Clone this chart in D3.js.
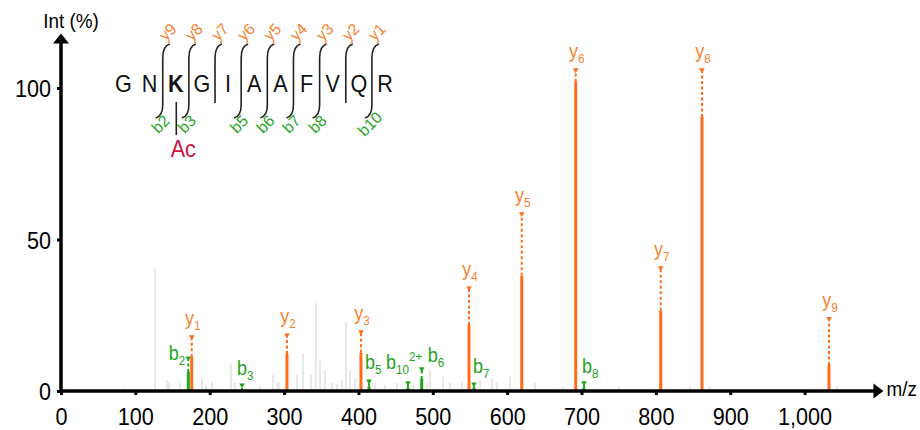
<!DOCTYPE html>
<html><head><meta charset="utf-8">
<script src="https://cdn.jsdelivr.net/npm/d3@7"></script>
<style>
html,body{margin:0;padding:0;background:#fff;}
svg{display:block;font-family:"Liberation Sans",Arial,sans-serif;}
</style></head>
<body><svg id="c" width="920" height="430"></svg>
<script>
// ---------- data ----------
const xTicks = [0,100,200,300,400,500,600,700,800,900,1000];
const yTicks = [0,50,100];
const xLabel = "m/z";
const yLabel = "Int (%)";

// annotated fragment ions
const ionNames = ["b2","y1","b3","y2","y3","b5","b10","b6","y4","b7","y5","y6","b8","y7","y8","y9"];
const ionSub   = ["2","1","3","2","3","5","10","6","4","7","5","6","8","7","8","9"];
const ionSup   = ["","","","","","","2+","","","","","","","","",""];
const ionType  = ["b","y","b","y","y","b","b","b","y","b","y","y","b","y","y","y"];
const ionMz    = [171.2,175.8,243.4,303.9,403.4,414.2,466.6,485.1,548.7,555.4,619.6,692.2,703.3,806.5,862.0,1032.8];
const ionInt   = [6.3,11.3,0,12.2,12.6,1.5,1.0,4.0,21.8,1.2,38.0,102.0,1.2,26.5,90.4,8.6];
const ionMark  = [11.2,18.2,2.3,18.8,19.8,3.6,3.0,7.6,34.3,2.6,58.8,106.3,3.0,41.0,106.3,24.2];

// unassigned background peaks
const bgMz  = [86,126.4,142.5,145.2,160,189.6,195,203,228.6,234,267.6,285,290.5,293,317.4,325.4,336.2,342.9,348.3,355,364.4,371.2,377.9,383.3,388.6,395.4,422.3,435.7,451.9,473.4,492.2,496.2,513.7,523.1,539.3,563.5,579.6,586.3,603.8,637.4,675.1,750,845.9,872.8,1043];
const bgInt = [1.0,40.6,3.6,3.0,2.6,4.3,2.0,3.0,9.0,2.6,1.7,5.3,2.6,3.0,5.3,12.5,5.3,29.0,10.0,7.0,2.6,2.3,3.6,22.8,7.0,4.3,2.0,2.0,2.6,2.0,2.6,7.0,4.6,2.6,3.0,3.6,4.3,3.0,4.6,2.6,1.7,1.5,2.0,2.0,1.5];

// peptide sequence and fragment coverage
const residues = ["G","N","K","G","I","A","A","F","V","Q","R"];
const modifiedResidue = 2;     // index of acetylated K
const modLabel = "Ac";
const yCoverage = ["y9","y8","y7","y6","y5","y4","y3","y2","y1"];   // cleavage sites N|K ... Q|R
const bCoverage = ["b2","b3","","b5","b6","b7","b8","","b10"];

// ---------- drawing ----------
const ORANGE = "#ff6d1a", ORANGE_T = "#f7822f", GREEN = "#1fa51f", RED = "#cc1540", GRAY = "#d9d9d9";
const SX = 0.9;
const svg = d3.select("#c");

const x = d3.scaleLinear().domain([0,1000]).range([61,804.6]);
const y = d3.scaleLinear().domain([0,100]).range([391,88]);

function txt(g, s, px, py, size, anchor, color, weight){
  return g.append("text").attr("transform",`translate(${px},${py}) scale(${SX},1)`)
    .attr("text-anchor",anchor||"start").attr("font-size",size).attr("fill",color||"#000")
    .attr("font-weight",weight||"normal").text(s);
}

// background peaks
svg.append("g").selectAll("line").data(bgMz).join("line")
  .attr("x1",d=>x(d)).attr("x2",d=>x(d))
  .attr("y1",y(0)).attr("y2",(d,i)=>y(bgInt[i]))
  .attr("stroke",GRAY).attr("stroke-width",1.2);

// ion peaks
const ions = ionNames.map((n,i)=>({n,sub:ionSub[i],sup:ionSup[i],t:ionType[i],mz:ionMz[i],v:ionInt[i],m:ionMark[i]}));
const gI = svg.append("g");
ions.forEach(d=>{
  const c = d.t==="y"?ORANGE:GREEN;
  const px = x(d.mz);
  if(d.v>0) gI.append("line").attr("x1",px).attr("x2",px).attr("y1",y(0)).attr("y2",y(d.v))
    .attr("stroke",c).attr("stroke-width",3);
  gI.append("line").attr("x1",px).attr("x2",px).attr("y1",y(d.v)).attr("y2",y(d.m)+3)
    .attr("stroke",c).attr("stroke-width",2).attr("stroke-dasharray","3,2.5");
  gI.append("path").attr("d",d3.symbol().type(d3.symbolTriangle).size(14)())
    .attr("transform",`translate(${px},${y(d.m)+1}) rotate(180)`).attr("fill",c);
});

// ion labels
const bOff = {b2:[-3,3,"end"],b3:[-5,-9,"start"],b5:[-4,-11,"start"],b10:[-22,-13,"start"],b6:[6,-6,"start"],b7:[-1,-10,"start"],b8:[-2,-9,"start"]};
ions.forEach(d=>{
  const px = x(d.mz), py = y(d.m);
  let t;
  if(d.t==="y"){
    t = txt(gI,"",px+1,py-11,20,"middle",ORANGE_T);
  } else {
    const o = bOff[d.n];
    t = txt(gI,"",px+o[0],py+o[1],20,o[2],GREEN);
  }
  t.append("tspan").text(d.t);
  t.append("tspan").attr("font-size",13).attr("dy",5).text(d.sub);
  if(d.sup) t.append("tspan").attr("font-size",13).attr("dy",-13).text(d.sup);
});

// axes
const ax = svg.append("g").attr("transform",`translate(0,${y(0)})`)
  .call(d3.axisBottom(x).tickValues(xTicks).tickFormat(d3.format(",")).tickSize(4));
ax.select(".domain").remove();
ax.selectAll(".tick line").attr("stroke","#000").attr("stroke-width",3);
ax.selectAll(".tick text").attr("y",null).attr("dy",null)
  .attr("transform",`translate(0,34) scale(${SX},1)`).attr("font-size",24)
  .attr("font-family","Liberation Sans, Arial, sans-serif").attr("fill","#000");

const ay = svg.append("g").attr("transform",`translate(${x(0)},0)`)
  .call(d3.axisLeft(y).tickValues(yTicks).tickSize(4));
ay.select(".domain").remove();
ay.selectAll(".tick line").attr("stroke","#000").attr("stroke-width",3);
ay.selectAll(".tick text").attr("x",null).attr("dy","0.36em")
  .attr("transform",`translate(-10,0) scale(${SX},1)`).attr("font-size",24)
  .attr("font-family","Liberation Sans, Arial, sans-serif").attr("fill","#000");

const xEnd = x(1106), yTop = y(118);
svg.append("line").attr("x1",x(0)).attr("x2",xEnd-6).attr("y1",y(0)).attr("y2",y(0)).attr("stroke","#000").attr("stroke-width",3.5);
svg.append("line").attr("x1",x(0)).attr("x2",x(0)).attr("y1",y(0)+1.75).attr("y2",yTop+6).attr("stroke","#000").attr("stroke-width",3.5);
svg.append("path").attr("d",`M${xEnd},${y(0)} L${xEnd-10},${y(0)-7.5} L${xEnd-10},${y(0)+7.5} Z`).attr("fill","#000");
svg.append("path").attr("d",`M${x(0)},${yTop} L${x(0)-8},${yTop+10} L${x(0)+8},${yTop+10} Z`).attr("fill","#000");
txt(svg,xLabel,xEnd+3,y(0)+5,21,"start");
txt(svg,yLabel,x(0)+10,28,21,"middle");

// peptide inset
const pg = svg.append("g");
const pos = d3.scaleLinear().domain([0,10]).range([123.5,385]);
residues.forEach((r,i)=>{
  txt(pg,r,pos(i),92,24,"middle","#111",i===modifiedResidue?"bold":"normal");
});
yCoverage.forEach((yl,k)=>{
  const cx = pos(k+1.5);
  const hasB = bCoverage[k]!=="";
  const p = d3.path();
  p.moveTo(cx+7,44);
  p.quadraticCurveTo(cx,46,cx,58);
  p.lineTo(cx,hasB?105:103);
  if(hasB) p.quadraticCurveTo(cx,116,cx-7,118);
  pg.append("path").attr("d",p.toString()).attr("fill","none").attr("stroke","#222").attr("stroke-width",1.6);
  pg.append("text").attr("transform",`translate(${cx+5},32) rotate(-45)`)
    .attr("text-anchor","middle").attr("dominant-baseline","central").attr("font-size",16).attr("fill",ORANGE_T)
    .text(yl);
  if(hasB){
    pg.append("text").attr("transform",`translate(${cx-2},124) rotate(-45)`)
      .attr("text-anchor","middle").attr("dominant-baseline","central").attr("font-size",16).attr("fill",GREEN)
      .text(bCoverage[k]);
  }
});
const kx = pos(modifiedResidue)+0.5;
pg.append("line").attr("x1",kx).attr("x2",kx).attr("y1",102).attr("y2",135).attr("stroke","#222").attr("stroke-width",1.6);
txt(pg,modLabel,kx+7,157,24,"middle",RED);
</script></body></html>
